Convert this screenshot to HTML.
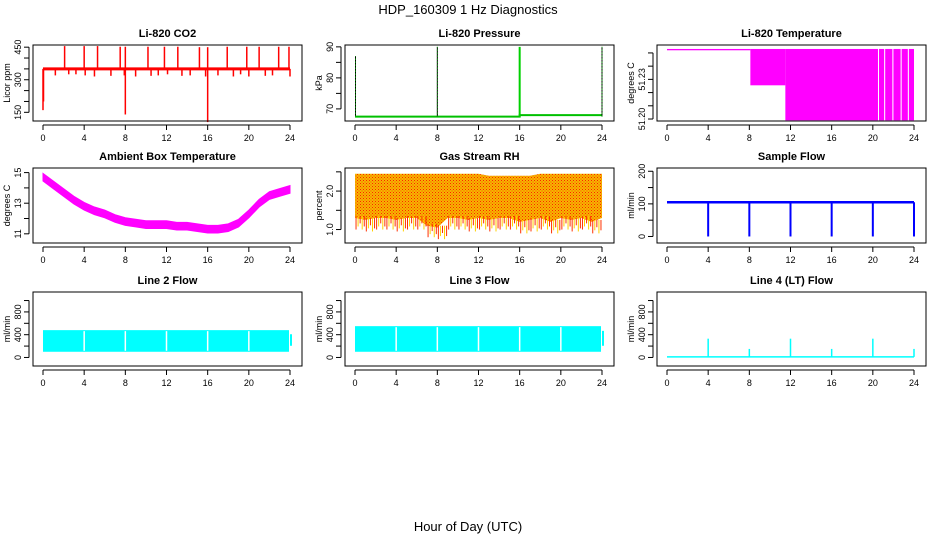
<!DOCTYPE html>
<html><head><meta charset="utf-8"><style>
body{margin:0;background:#fff;}
svg{display:block;font-family:"Liberation Sans",sans-serif;}
</style></head><body>
<svg id="c" width="936" height="540">
<defs><pattern id="rhp" width="3" height="3" patternUnits="userSpaceOnUse"><rect width="3" height="3" fill="#f5b800"/><rect x="0" y="0" width="1" height="1" fill="#ff2000"/><rect x="1.5" y="1.5" width="1" height="1" fill="#ff4000"/></pattern></defs>
</svg>
<script>
const hours=[0,4,8,12,16,20,24];
// CO2
const co2Base=350;
const co2SpikeT=[2.1,4.0,5.3,7.5,8.0,10.2,11.8,13.1,15.2,16.0,17.9,19.8,21.0,22.9,23.9];
const co2SpikeV=[455,455,455,452,452,452,452,452,450,450,452,452,452,452,452];
const co2DipT=[0.0,0.05,1.2,2.5,3.2,4.1,5.0,6.6,7.9,8.0,9.0,10.5,11.2,12.1,13.5,14.3,15.8,16.0,17.0,18.5,19.2,20.0,21.6,22.3,24.0];
const co2DipV=[160,200,320,325,325,320,315,318,320,140,315,318,320,325,318,320,315,105,320,315,325,315,318,320,315];
// Pressure
const presT=[0,16,16,24];
const presV=[67.5,67.5,68.0,68.0];
const presSpikeT=[0.05,8.0,16.0,24.0];
const presSpikeV=[87,90,90,90];
// Li-820 temperature segments
const tempSegStart=[0,8.1,11.5,20.6,21.2,22.0,22.8,23.5];
const tempSegEnd=[8.1,11.5,20.5,21.1,21.9,22.7,23.4,24.0];
const tempSegLow=[51.252,51.2255,51.199,51.199,51.199,51.199,51.199,51.199];
const tempTop=51.253;
// Ambient
const ambT=[0,1,2,3,4,5,6,7,8,9,10,11,12,13,14,15,16,17,18,19,20,21,22,23,24];
const ambV=[14.7,14.2,13.7,13.2,12.8,12.5,12.3,12.0,11.8,11.7,11.6,11.6,11.6,11.5,11.5,11.4,11.3,11.3,11.4,11.7,12.3,13.0,13.5,13.7,13.9];
// RH
const rhT=[0,1,2,3,4,5,6,7,8,9,10,11,12,13,14,15,16,17,18,19,20,21,22,23,24];
const rhLow=[1.0,0.95,1.0,1.0,0.95,1.0,1.0,0.8,0.75,1.0,1.0,0.95,1.0,0.95,1.0,1.0,0.9,0.95,1.0,0.9,1.0,0.95,1.0,0.9,1.0];
const rhHigh=[2.45,2.45,2.45,2.45,2.45,2.45,2.45,2.45,2.45,2.45,2.45,2.45,2.45,2.4,2.4,2.4,2.4,2.4,2.45,2.45,2.45,2.45,2.45,2.45,2.45];
// Flows
const sampleBase=105;
const flowDipT=[4,8,12,16,20,24];
const sampleDipV=[0,0,0,0,0,0];
const line2Low=100, line2High=480;
const line3Low=100, line3High=550;
const line4Base=10;
const line4SpikeV=[330,150,330,150,330,150];

const NS="http://www.w3.org/2000/svg";
const svg=document.getElementById('c');
function el(tag,attrs,parent){const e=document.createElementNS(NS,tag);for(const k in attrs)e.setAttribute(k,attrs[k]);(parent||svg).appendChild(e);return e;}
function txt(s,attrs,parent){const e=el('text',attrs,parent);e.textContent=s;return e;}

const t=txt('HDP_160309  1 Hz Diagnostics',{x:468,y:14,'text-anchor':'middle','font-size':13});


const xl=txt('Hour of Day (UTC)',{x:468,y:531,'text-anchor':'middle','font-size':13});



const cols=[{x0:43,x1:290,bl:33,br:302},{x0:355,x1:602,bl:345,br:614},{x0:667,x1:914,bl:657,br:926}];
const rows=[{top:45,bot:121},{top:168,bot:243},{top:292,bot:366}];

function panel(ci,ri,title,name,ylab,ymin,ymax,ticks,labels,draw){
  const c=cols[ci],r=rows[ri];
  const g=el('g',{});
  
  
  const X=h=>c.x0+(h/24)*(c.x1-c.x0);
  const Y=v=>r.bot-(v-ymin)/(ymax-ymin)*(r.bot-r.top);
  const tt=txt(title,{x:(c.bl+c.br)/2,y:r.top-8,'text-anchor':'middle','font-size':11,'font-weight':'bold'},g);
  
  
  const dg=el('g',{},g);
  
  
  draw(dg,X,Y);
  el('rect',{x:c.bl,y:r.top,width:c.br-c.bl,height:r.bot-r.top,fill:'none',stroke:'#000','stroke-width':1},g);
  const ax=el('g',{},g);
  
  
  const ay0=r.bot+4;
  el('line',{x1:X(0),x2:X(24),y1:ay0,y2:ay0,stroke:'#000'},ax);
  hours.forEach(h=>{el('line',{x1:X(h),x2:X(h),y1:ay0,y2:ay0+5,stroke:'#000'},ax);
    txt(String(h),{x:X(h),y:ay0+16,'text-anchor':'middle','font-size':9},ax);});
  const yx=el('g',{},g);
  
  
  const axx=c.bl-4;
  el('line',{x1:axx,x2:axx,y1:Y(ticks[0]),y2:Y(ticks[ticks.length-1]),stroke:'#000'},yx);
  ticks.forEach(v=>el('line',{x1:axx,x2:axx-5,y1:Y(v),y2:Y(v),stroke:'#000'},yx));
  labels.forEach(v=>{const s=typeof v==='number'?String(v):v;const val=parseFloat(s);
    txt(s,{x:0,y:0,'text-anchor':'middle','font-size':9,transform:`translate(${axx-8},${Y(val)}) rotate(-90)`},yx);});
  const yl=txt(ylab,{x:0,y:0,'text-anchor':'middle','font-size':9,transform:`translate(${c.bl-23},${(r.top+r.bot)/2}) rotate(-90)`},yx);
  
  
}

function vline(g,x,y1,y2,col,w){el('line',{x1:x,x2:x,y1:y1,y2:y2,stroke:col,'stroke-width':w||1},g);}

panel(0,0,'Li-820 CO2','co2','Licor ppm',110,460,[150,200,250,300,350,400,450],[150,300,450],(g,X,Y)=>{
  el('line',{x1:X(0),x2:X(24),y1:Y(co2Base),y2:Y(co2Base),stroke:'red','stroke-width':3},g);
  co2SpikeT.forEach((t,i)=>vline(g,X(t),Y(co2Base),Y(co2SpikeV[i]),'red',1.5));
  co2DipT.forEach((t,i)=>vline(g,X(t),Y(co2Base),Y(co2DipV[i]),'red',1.5));
});
panel(1,0,'Li-820 Pressure','pressure','kPa',66.1,90.6,[70,75,80,85,90],[70,80,90],(g,X,Y)=>{
  el('polyline',{points:presT.map((t,i)=>X(t)+','+Y(presV[i])).join(' '),fill:'none',stroke:'#00c000','stroke-width':2},g);
  presSpikeT.forEach((t,i)=>{vline(g,X(t),Y(presV[0]),Y(presSpikeV[i]),i==2?'#00d000':'#000',i==2?2:1);
    if(i!=2) el('line',{x1:X(t),x2:X(t),y1:Y(presV[0]),y2:Y(presSpikeV[i]),stroke:'#00c000','stroke-dasharray':'1,2'},g);});
});
panel(2,0,'Li-820 Temperature','li820-temp','degrees C',51.1985,51.256,[51.20,51.21,51.22,51.23,51.24,51.25],['51.20','51.23'],(g,X,Y)=>{
  tempSegStart.forEach((s,i)=>{
    el('rect',{x:X(s),y:Y(tempTop),width:X(tempSegEnd[i])-X(s),height:Math.max(1,Y(tempSegLow[i])-Y(tempTop)),fill:'#ff00ff'},g);});
});
panel(0,1,'Ambient Box Temperature','ambient-temp','degrees C',10.4,15.3,[11,12,13,14,15],[11,13,15],(g,X,Y)=>{
  const up=ambT.map((t,i)=>X(t)+','+Y(ambV[i]+0.25));
  const dn=ambT.map((t,i)=>X(t)+','+Y(ambV[i]-0.25)).reverse();
  el('polygon',{points:up.concat(dn).join(' '),fill:'#ff00ff',stroke:'#ff00ff'},g);
});
panel(1,1,'Gas Stream RH','gas-rh','percent',0.65,2.6,[1.0,1.5,2.0,2.5],['1.0','2.0'],(g,X,Y)=>{
  const up=rhT.map((t,i)=>X(t)+','+Y(rhHigh[i]));
  const dn=rhT.map((t,i)=>X(t)+','+Y(rhLow[i]+0.3)).reverse();
  el('polygon',{points:up.concat(dn).join(' '),fill:'url(#rhp)'},g);
  rhT.forEach((t,i)=>{if(i<rhT.length-1)for(let k=0;k<5;k++){const xx=X(t+k*0.2+0.1);vline(g,xx,Y(rhLow[i]+0.35),Y(rhLow[i]+(k%3)*0.08),k%2?'#ffd000':'#ff3000');}});
});
panel(2,1,'Sample Flow','sample-flow','ml/min',-20,210,[0,50,100,150,200],[0,100,200],(g,X,Y)=>{
  el('line',{x1:X(0),x2:X(24),y1:Y(sampleBase),y2:Y(sampleBase),stroke:'blue','stroke-width':2.5},g);
  flowDipT.forEach((t,i)=>vline(g,X(t),Y(sampleBase),Y(sampleDipV[i]),'blue',2));
});
function flowBand(g,X,Y,lo,hi){
  el('rect',{x:X(0),y:Y(hi),width:X(24)-X(0),height:Y(lo)-Y(hi),fill:'#00ffff'},g);
  flowDipT.forEach(t=>{if(t<24)vline(g,X(t),Y(hi)+1,Y(lo)-1,'#fff',1.5);});
  el('rect',{x:X(24)-1,y:Y(hi)-1,width:4,height:Y(lo)-Y(hi)+2,fill:'#fff'},g);
  el('rect',{x:X(24),y:Y(hi*0.85),width:2,height:Y(lo)-Y(hi*0.85)-6,fill:'#00ffff'},g);
}
panel(0,2,'Line 2 Flow','line2-flow','ml/min',-150,1150,[0,200,400,600,800,1000],[0,400,800],(g,X,Y)=>flowBand(g,X,Y,line2Low,line2High));
panel(1,2,'Line 3 Flow','line3-flow','ml/min',-150,1150,[0,200,400,600,800,1000],[0,400,800],(g,X,Y)=>flowBand(g,X,Y,line3Low,line3High));
panel(2,2,'Line 4 (LT) Flow','line4-flow','ml/min',-150,1150,[0,200,400,600,800,1000],[0,400,800],(g,X,Y)=>{
  el('line',{x1:X(0),x2:X(24),y1:Y(line4Base),y2:Y(line4Base),stroke:'#00ffff','stroke-width':1.5},g);
  flowDipT.forEach((t,i)=>vline(g,X(t),Y(line4Base),Y(line4SpikeV[i]),'#00ffff',1.5));
});
</script>
</body></html>
